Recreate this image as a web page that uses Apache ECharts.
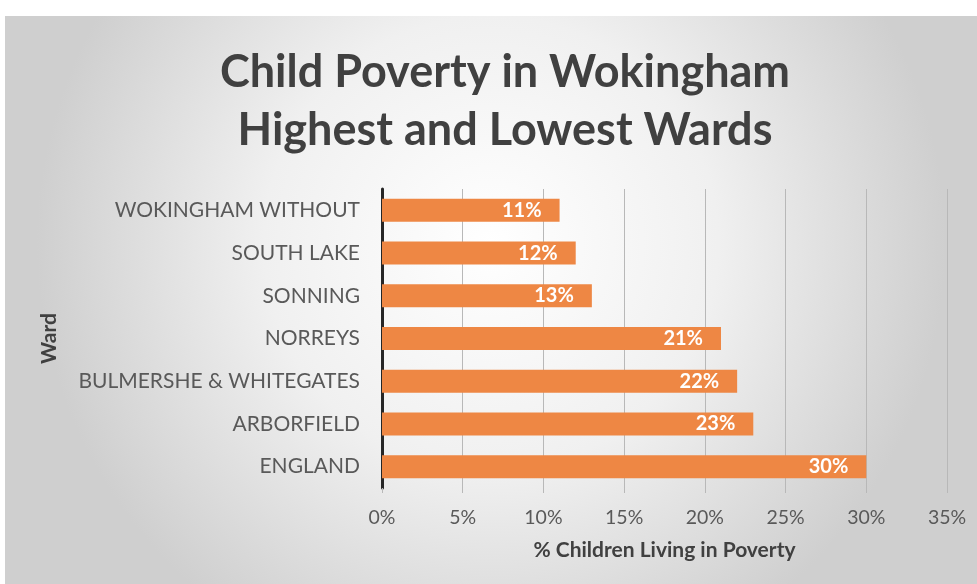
<!DOCTYPE html>
<html><head><meta charset="utf-8">
<script src="https://cdn.jsdelivr.net/npm/echarts@6/dist/echarts.min.js"></script>
<style>html,body{margin:0;padding:0;background:#fff}#c{width:977px;height:584px}</style>
</head><body><div id="c"></div>
<script>
const titleLines = ["Child Poverty in Wokingham", "Highest and Lowest Wards"];
const wards = ["WOKINGHAM WITHOUT", "SOUTH LAKE", "SONNING", "NORREYS", "BULMERSHE & WHITEGATES", "ARBORFIELD", "ENGLAND"];
const poverty = [0.11, 0.12, 0.13, 0.21, 0.22, 0.23, 0.30];
const xAxisName = "% Children Living in Poverty";
const yAxisName = "Ward";

const FONT = "Lato, 'Open Sans', sans-serif";
const chart = echarts.init(document.getElementById('c'), null, {renderer: 'canvas'});
chart.setOption({
  animation: false,
  graphic: [{
    type: 'rect', z: -10, silent: true,
    shape: {x: 5, y: 16, width: 972, height: 568},
    style: {fill: {type: 'radial', x: 0.5, y: 0.4, r: 0.8,
      colorStops: [{offset: 0, color: '#ffffff'}, {offset: 0.5, color: '#f0f0f0'}, {offset: 1, color: '#cfcfcf'}]}}
  }],
  title: {
    text: titleLines.join('\n'),
    left: 500, top: 38, textAlign: 'center',
    textStyle: {fontFamily: FONT, fontSize: 45, fontWeight: 'bold', color: '#404040', lineHeight: 58}
  },
  grid: {left: 382, right: 30, top: 189, bottom: 96},
  xAxis: {
    type: 'value', min: 0, max: 0.35, interval: 0.05,
    name: xAxisName, nameLocation: 'middle', nameGap: 52,
    nameTextStyle: {fontFamily: FONT, fontSize: 21, fontWeight: 'bold', color: '#404040'},
    axisLine: {show: false},
    axisTick: {show: true, length: 5, lineStyle: {color: '#b8b8b8'}},
    axisLabel: {formatter: v => Math.round(v * 100) + '%', fontFamily: FONT, fontSize: 19.5, color: '#595959', margin: 20},
    splitLine: {show: true, lineStyle: {color: '#b8b8b8', width: 1}}
  },
  yAxis: {
    type: 'category', data: wards, inverse: true,
    name: yAxisName, nameLocation: 'middle', nameGap: 322, nameRotate: 90,
    nameTextStyle: {fontFamily: FONT, fontSize: 21, fontWeight: 'bold', color: '#404040'},
    axisLine: {show: true, lineStyle: {color: '#262626', width: 3}},
    axisTick: {show: false},
    axisLabel: {fontFamily: FONT, fontSize: 21, color: '#595959', margin: 22}
  },
  series: [{
    type: 'bar', data: poverty, barWidth: 23,
    itemStyle: {color: '#EE8744'},
    label: {show: true, position: 'insideRight', formatter: p => Math.round(p.value * 100) + '%',
      fontFamily: FONT, fontSize: 20, fontWeight: 'bold', color: '#ffffff', distance: 18}
  }]
});
</script></body></html>
